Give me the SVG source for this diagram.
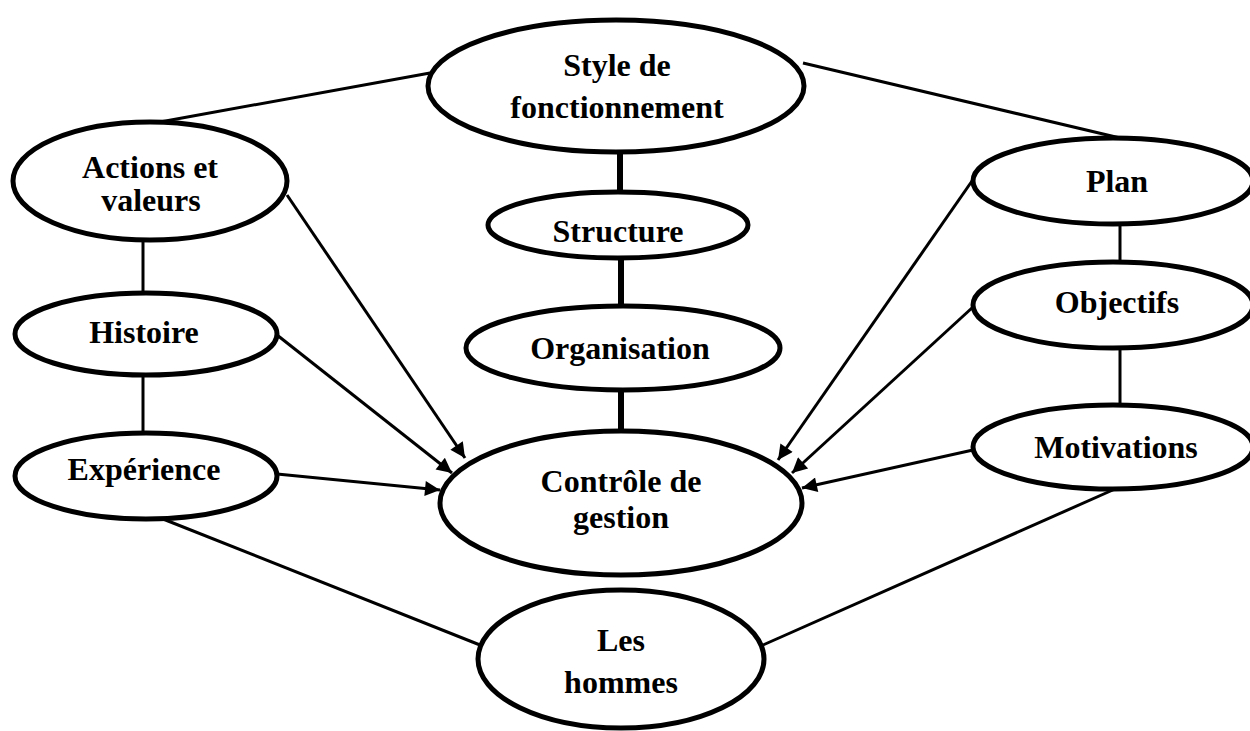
<svg xmlns="http://www.w3.org/2000/svg" width="1250" height="731" viewBox="0 0 1250 731">
  <style>
    .node ellipse { fill: #ffffff; stroke: #000000; stroke-width: 5; }
    .node text { font-family: "Liberation Serif", "Times New Roman", serif; font-weight: bold; font-size: 32px; fill: #000000; text-anchor: middle; }
    .thin { stroke: #000000; stroke-width: 3; fill: none; }
    .thick { stroke: #000000; stroke-width: 6; fill: none; }
    .arrow { stroke: #000000; stroke-width: 3; fill: none; marker-end: url(#head); }
  </style>
  <defs>
    <marker id="head" viewBox="0 0 10 10" refX="10" refY="5" markerWidth="6" markerHeight="5" markerUnits="strokeWidth" orient="auto">
      <path d="M0,0 L10,5 L0,10 z" fill="#000000"/>
    </marker>
  </defs>
  <rect width="1250" height="731" fill="#ffffff"/>

  <!-- connectors -->
  <g id="connectors">
    <line class="thin" x1="430" y1="73" x2="160" y2="122"/>
    <line class="thin" x1="803" y1="63" x2="1120" y2="138"/>
    <line class="thick" x1="620" y1="150" x2="620" y2="193"/>
    <line class="thick" x1="621" y1="256" x2="621" y2="307"/>
    <line class="thick" x1="621" y1="388" x2="621" y2="432"/>
    <line class="thin" x1="143" y1="238" x2="143" y2="294"/>
    <line class="thin" x1="143" y1="373" x2="143" y2="434"/>
    <line class="thin" x1="1120" y1="223" x2="1120" y2="263"/>
    <line class="thin" x1="1120" y1="346" x2="1120" y2="407"/>
    <line class="arrow" x1="287" y1="195" x2="465" y2="458"/>
    <line class="arrow" x1="277" y1="335" x2="452" y2="473"/>
    <line class="arrow" x1="277" y1="474" x2="440" y2="490"/>
    <line class="arrow" x1="972" y1="181" x2="778" y2="460"/>
    <line class="arrow" x1="973" y1="307" x2="792" y2="473"/>
    <line class="arrow" x1="973" y1="450" x2="802" y2="488"/>
    <line class="thin" x1="163" y1="519" x2="480" y2="645"/>
    <line class="thin" x1="1115" y1="489" x2="763" y2="645"/>
  </g>

  <g id="style-fonctionnement" class="node">
    <ellipse cx="616" cy="86" rx="188" ry="66"/>
    <text x="617" y="76">Style de</text>
    <text x="617" y="118">fonctionnement</text>
  </g>
  <g id="structure" class="node">
    <ellipse cx="618" cy="225" rx="130" ry="33"/>
    <text x="618" y="242">Structure</text>
  </g>
  <g id="organisation" class="node">
    <ellipse cx="623" cy="348" rx="157" ry="42"/>
    <text x="620" y="359">Organisation</text>
  </g>
  <g id="controle-gestion" class="node">
    <ellipse cx="621" cy="503" rx="181" ry="72"/>
    <text x="621" y="492">Contrôle de</text>
    <text x="621" y="528">gestion</text>
  </g>
  <g id="les-hommes" class="node">
    <ellipse cx="621" cy="659" rx="143" ry="69"/>
    <text x="621" y="651">Les</text>
    <text x="621" y="693">hommes</text>
  </g>
  <g id="actions-valeurs" class="node">
    <ellipse cx="150" cy="181" rx="137" ry="59"/>
    <text x="150" y="178">Actions et</text>
    <text x="151" y="211">valeurs</text>
  </g>
  <g id="histoire" class="node">
    <ellipse cx="146" cy="334" rx="131" ry="41"/>
    <text x="144" y="343">Histoire</text>
  </g>
  <g id="experience" class="node">
    <ellipse cx="146" cy="476" rx="131" ry="43"/>
    <text x="144" y="480">Expérience</text>
  </g>
  <g id="plan" class="node">
    <ellipse cx="1113" cy="181" rx="140" ry="43"/>
    <text x="1117" y="192">Plan</text>
  </g>
  <g id="objectifs" class="node">
    <ellipse cx="1113" cy="305" rx="140" ry="43"/>
    <text x="1117" y="313">Objectifs</text>
  </g>
  <g id="motivations" class="node">
    <ellipse cx="1113" cy="447" rx="140" ry="42"/>
    <text x="1116" y="458">Motivations</text>
  </g>
</svg>
